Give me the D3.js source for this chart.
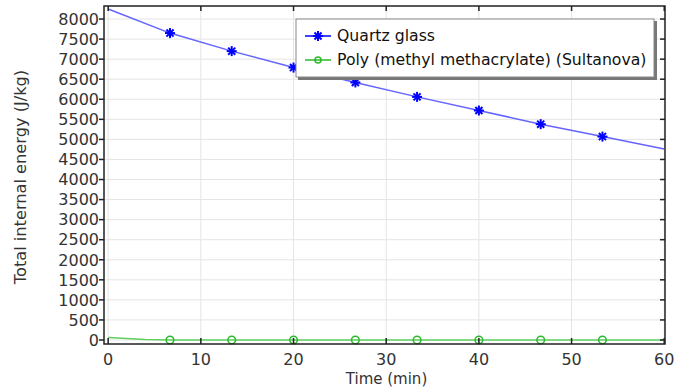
<!DOCTYPE html>
<html>
<head>
<meta charset="utf-8">
<script src="https://cdn.jsdelivr.net/npm/d3@7"></script>
<style>
  body { margin: 0; background: #fff; }
  svg text { font-family: 'DejaVu Sans', sans-serif; }
</style>
</head>
<body>
<div id="chart"></div>
<script>
// Data
const quartzTime = [0, 6.67, 13.33, 20, 26.67, 33.33, 40, 46.67, 53.33, 60];
const quartzEnergy = [8250, 7650, 7200, 6790, 6420, 6060, 5720, 5380, 5070, 4760];
const pmmaTime = [0, 2, 4, 6.67, 13.33, 20, 26.67, 33.33, 40, 46.67, 53.33, 60];
const pmmaEnergy = [60, 35, 12, 0, 0, 0, 0, 0, 0, 0, 0, 0];
const markerTime = [6.67, 13.33, 20, 26.67, 33.33, 40, 46.67, 53.33];
const xTicks = [0, 10, 20, 30, 40, 50, 60];
const yTicks = d3.range(0, 8001, 500);
const seriesNames = ['Quartz glass', 'Poly (methyl methacrylate) (Sultanova)'];

const width = 674, height = 391;
const margin = { top: 6, right: 9, bottom: 47, left: 104 };

const svg = d3.select('#chart').append('svg')
    .attr('width', width)
    .attr('height', height);

const x = d3.scaleLinear().domain([-0.45, 60.08]).range([margin.left, width - margin.right]);
const y = d3.scaleLinear().domain([-100, 8325]).range([height - margin.bottom, margin.top]);

const plot = svg.append('g');

// Grid
plot.selectAll('line.gx').data(xTicks).enter().append('line')
    .attr('x1', d => x(d)).attr('x2', d => x(d))
    .attr('y1', y.range()[0]).attr('y2', y.range()[1])
    .attr('stroke', '#e4e4e4').attr('stroke-width', 1);
plot.selectAll('line.gy').data(yTicks).enter().append('line')
    .attr('y1', d => y(d)).attr('y2', d => y(d))
    .attr('x1', x.range()[0]).attr('x2', x.range()[1])
    .attr('stroke', '#e4e4e4').attr('stroke-width', 1);

// Lines
const line = d3.line().x(d => x(d[0])).y(d => y(d[1]));
const quartz = quartzTime.map((t, i) => [t, quartzEnergy[i]]);
const pmma = pmmaTime.map((t, i) => [t, pmmaEnergy[i]]);

plot.append('path').datum(pmma).attr('d', line)
    .attr('fill', 'none').attr('stroke', '#5fd05f').attr('stroke-width', 1.5);
plot.append('path').datum(quartz).attr('d', line)
    .attr('fill', 'none').attr('stroke', '#6464ff').attr('stroke-width', 1.5);

const interp = (ts, vs, t) => {
    for (let i = 1; i < ts.length; i++) {
        if (t <= ts[i]) {
            const f = (t - ts[i - 1]) / (ts[i] - ts[i - 1]);
            return vs[i - 1] + f * (vs[i] - vs[i - 1]);
        }
    }
    return vs[vs.length - 1];
};

// Star markers
function star(g, cx, cy, r, color) {
    for (let k = 0; k < 4; k++) {
        const a = k * Math.PI / 4;
        g.append('line')
            .attr('x1', cx - r * Math.cos(a)).attr('y1', cy - r * Math.sin(a))
            .attr('x2', cx + r * Math.cos(a)).attr('y2', cy + r * Math.sin(a))
            .attr('stroke', color).attr('stroke-width', 2);
    }
}
const markers = plot.append('g');
markerTime.forEach(t => {
    star(markers, x(t), y(interp(quartzTime, quartzEnergy, t)), 5, '#0000ff');
    markers.append('circle')
        .attr('cx', x(t)).attr('cy', y(interp(pmmaTime, pmmaEnergy, t)))
        .attr('r', 3.8).attr('fill', 'none')
        .attr('stroke', '#2db82d').attr('stroke-width', 1.5);
});

// Frame and ticks
const axisColor = '#222';
const x0 = x.range()[0], x1 = x.range()[1], y0 = y.range()[0], y1 = y.range()[1];
svg.append('rect').attr('x', x0).attr('y', y1).attr('width', x1 - x0).attr('height', y0 - y1)
    .attr('fill', 'none').attr('stroke', axisColor).attr('stroke-width', 1.5);

xTicks.forEach(d => {
    svg.append('line').attr('x1', x(d)).attr('x2', x(d)).attr('y1', y0).attr('y2', y0 - 6)
        .attr('stroke', axisColor).attr('stroke-width', 1.5);
    svg.append('line').attr('x1', x(d)).attr('x2', x(d)).attr('y1', y1).attr('y2', y1 + 5)
        .attr('stroke', axisColor).attr('stroke-width', 1.5);
    svg.append('text').attr('x', x(d)).attr('y', y0 + 21)
        .attr('text-anchor', 'middle').attr('font-size', 16).attr('fill', '#333')
        .text(d);
});
yTicks.forEach(d => {
    svg.append('line').attr('x1', x0).attr('x2', x0 - 5).attr('y1', y(d)).attr('y2', y(d))
        .attr('stroke', axisColor).attr('stroke-width', 1.5);
    svg.append('line').attr('x1', x1).attr('x2', x1 - 5).attr('y1', y(d)).attr('y2', y(d))
        .attr('stroke', axisColor).attr('stroke-width', 1.5);
    svg.append('text').attr('x', x0 - 5).attr('y', y(d)).attr('dy', '0.36em')
        .attr('text-anchor', 'end').attr('font-size', 16).attr('fill', '#333')
        .text(d);
});

// Axis titles
svg.append('text').attr('x', (x0 + x1) / 2 + 2).attr('y', 384)
    .attr('text-anchor', 'middle').attr('font-size', 15).attr('fill', '#333')
    .text('Time (min)');
svg.append('text').attr('transform', `translate(26, ${(y0 + y1) / 2 + 2}) rotate(-90)`)
    .attr('text-anchor', 'middle').attr('font-size', 16.2).attr('fill', '#333')
    .text('Total internal energy (J/kg)');

// Legend
const lg = svg.append('g').attr('transform', 'translate(296, 19)');
lg.append('rect').attr('x', 2).attr('y', 2).attr('width', 359).attr('height', 59).attr('fill', '#777');
lg.append('rect').attr('x', 0).attr('y', 0).attr('width', 358).attr('height', 58)
    .attr('fill', '#fff').attr('stroke', '#888').attr('stroke-width', 1);
// Quartz entry
lg.append('line').attr('x1', 9).attr('x2', 35).attr('y1', 17).attr('y2', 17)
    .attr('stroke', '#0000ff').attr('stroke-width', 1.5);
star(lg, 22, 17, 5, '#0000ff');
lg.append('text').attr('x', 41).attr('y', 17).attr('dy', '0.35em')
    .attr('font-size', 15.7).attr('fill', '#111').text(seriesNames[0]);
// PMMA entry
lg.append('line').attr('x1', 9).attr('x2', 35).attr('y1', 41).attr('y2', 41)
    .attr('stroke', '#2db82d').attr('stroke-width', 1.5);
lg.append('circle').attr('cx', 22, 17).attr('cy', 41).attr('r', 3)
    .attr('fill', 'none').attr('stroke', '#2db82d').attr('stroke-width', 1.5);
lg.append('text').attr('x', 41).attr('y', 41).attr('dy', '0.35em')
    .attr('font-size', 15.7).attr('fill', '#111').text(seriesNames[1]);
</script>
</body>
</html>
